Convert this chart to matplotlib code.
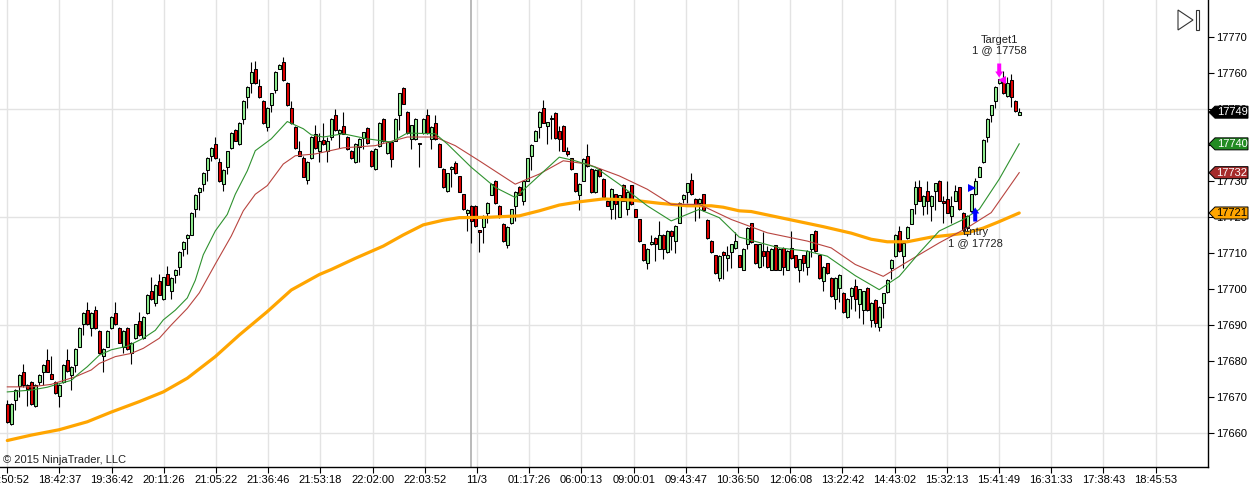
import numpy as np
import matplotlib.pyplot as plt
import matplotlib.transforms as mtransforms
from matplotlib.patches import Polygon, Rectangle

plt.rcParams['font.family'] = ['Liberation Sans', 'DejaVu Sans']

# candles (one value per bar)
opens = [
    17668.2, 17662.5, 17669.3, 17673.1, 17677.1, 17673.4, 17674.3, 17667.5, 17674.3, 17677.1,
    17680.3, 17676.4, 17674.3, 17670.3, 17674.3, 17680.3, 17676.3, 17679.1, 17684.1, 17690.3,
    17694.3, 17689.2, 17694.3, 17688.4, 17681.5, 17684.1, 17689.2, 17693.4, 17689.2, 17684.1,
    17689.2, 17682.2, 17686.4, 17691.2, 17686.4, 17693.4, 17699.4, 17696.2, 17702.4, 17697.3,
    17704.3, 17699.4, 17704.1, 17706.1, 17711.1, 17714.3, 17715.2, 17722.2, 17727.1, 17729.2,
    17733.2, 17737.1, 17740.4, 17735.3, 17729.2, 17734.1, 17739.2, 17744.3, 17740.4, 17747.2,
    17753.4, 17757.3, 17761.3, 17756.4, 17752.3, 17745.2, 17751.2, 17755.3, 17761.3, 17763.2,
    17757.3, 17750.3, 17745.2, 17738.3, 17736.5, 17730.3, 17736.5, 17743.2, 17738.3, 17741.5,
    17738.3, 17742.2, 17748.3, 17743.4, 17745.3, 17742.3, 17738.5, 17735.3, 17739.5, 17742.0,
    17744.8, 17738.5, 17733.3, 17739.7, 17747.4, 17737.9, 17740.9, 17741.3, 17748.3, 17756.0,
    17749.2, 17741.8, 17741.8, 17740.5, 17743.4, 17748.3, 17741.8, 17746.2, 17740.4, 17733.4,
    17727.2, 17733.4, 17735.1, 17731.4, 17726.4, 17721.1, 17723.2, 17723.2, 17716.4, 17717.4,
    17721.2, 17726.3, 17730.2, 17723.2, 17718.1, 17712.3, 17718.3, 17723.1, 17728.4, 17724.6,
    17730.2, 17737.1, 17741.3, 17745.1, 17750.4, 17745.4, 17747.5, 17749.0, 17744.1, 17745.3,
    17738.5, 17736.4, 17732.2, 17726.3, 17730.2, 17737.1, 17733.4, 17726.9, 17733.4, 17730.6,
    17724.6, 17722.2, 17726.4, 17720.2, 17729.0, 17722.2, 17728.9, 17722.2, 17719.4, 17712.5,
    17707.3, 17712.5, 17714.3, 17711.3, 17715.2, 17710.4, 17716.2, 17713.4, 17718.5, 17725.2,
    17727.1, 17730.4, 17725.2, 17724.1, 17726.4, 17719.2, 17713.4, 17709.4, 17703.2, 17710.4,
    17708.6, 17710.3, 17711.4, 17709.4, 17705.5, 17712.5, 17718.3, 17712.5, 17706.2, 17710.6,
    17710.6, 17705.5, 17712.2, 17705.5, 17711.5, 17705.5, 17711.5, 17709.4, 17705.5, 17709.4,
    17706.2, 17711.2, 17716.2, 17709.4, 17702.2, 17707.2, 17703.2, 17697.3, 17700.4, 17699.1,
    17692.3, 17698.2, 17701.0, 17696.0, 17694.3, 17700.4, 17691.5, 17697.1, 17689.6, 17696.2,
    17699.2, 17705.9, 17709.2, 17716.2, 17709.2, 17714.3, 17718.2, 17723.6, 17728.3, 17723.2,
    17727.4, 17723.2, 17727.2, 17730.1, 17724.6, 17725.0, 17720.4, 17724.6, 17728.3, 17721.3,
    17717.1, 17721.8, 17726.4, 17731.3, 17735.3, 17742.3, 17748.3, 17752.3, 17757.3, 17758.8,
    17753.6, 17758.1, 17752.3, 17748.5,
]
highs = [
    17669.3, 17668.4, 17672.4, 17676.5, 17679.2, 17673.6, 17674.5, 17673.6, 17676.5, 17679.2,
    17683.4, 17681.5, 17674.5, 17673.6, 17679.2, 17683.4, 17678.7, 17683.6, 17689.4, 17693.6,
    17696.4, 17693.6, 17695.4, 17688.6, 17683.6, 17688.6, 17692.5, 17696.4, 17689.4, 17688.6,
    17689.4, 17685.4, 17690.5, 17693.8, 17692.5, 17698.7, 17703.3, 17701.5, 17704.3, 17703.5,
    17706.4, 17703.3, 17705.7, 17710.6, 17713.4, 17715.4, 17721.5, 17726.4, 17728.4, 17732.5,
    17736.7, 17739.4, 17742.4, 17736.5, 17733.4, 17738.5, 17743.6, 17744.5, 17746.4, 17752.5,
    17756.4, 17763.2, 17763.5, 17758.5, 17752.5, 17750.5, 17754.6, 17760.6, 17762.5, 17764.4,
    17757.5, 17752.3, 17745.4, 17741.1, 17737.1, 17735.5, 17742.5, 17745.5, 17743.4, 17746.2,
    17742.4, 17747.6, 17750.2, 17744.5, 17749.2, 17742.5, 17738.7, 17740.6, 17742.0, 17743.8,
    17745.0, 17738.7, 17739.3, 17746.4, 17747.6, 17741.1, 17741.1, 17747.6, 17754.6, 17756.3,
    17749.4, 17745.7, 17747.6, 17740.6, 17747.6, 17750.0, 17745.4, 17748.3, 17740.6, 17733.6,
    17732.4, 17734.3, 17735.5, 17731.6, 17726.6, 17722.2, 17723.4, 17723.4, 17716.6, 17720.6,
    17724.2, 17729.5, 17730.4, 17723.4, 17718.3, 17717.6, 17722.4, 17727.3, 17728.6, 17730.2,
    17736.6, 17740.4, 17744.3, 17749.4, 17752.5, 17746.6, 17748.5, 17749.2, 17745.3, 17745.5,
    17739.4, 17736.6, 17732.4, 17729.5, 17736.4, 17740.4, 17733.6, 17733.4, 17733.6, 17730.8,
    17724.8, 17728.0, 17726.6, 17726.3, 17729.2, 17727.3, 17729.1, 17722.4, 17719.6, 17712.7,
    17711.5, 17715.0, 17714.5, 17719.0, 17715.4, 17716.4, 17716.4, 17717.8, 17724.3, 17726.4,
    17729.6, 17732.3, 17725.4, 17725.4, 17726.6, 17719.4, 17713.6, 17709.6, 17709.5, 17710.6,
    17712.0, 17712.7, 17716.0, 17709.6, 17711.4, 17717.3, 17718.5, 17712.7, 17712.7, 17716.0,
    17712.0, 17711.4, 17712.4, 17711.4, 17711.7, 17710.8, 17716.2, 17709.6, 17708.5, 17709.6,
    17710.8, 17715.5, 17716.4, 17709.6, 17706.4, 17707.4, 17703.4, 17703.4, 17704.3, 17699.3,
    17697.5, 17700.6, 17703.0, 17700.2, 17699.6, 17700.6, 17696.4, 17697.3, 17695.4, 17699.1,
    17702.9, 17708.4, 17715.4, 17717.5, 17713.1, 17717.5, 17722.4, 17730.0, 17730.3, 17726.2,
    17730.0, 17726.2, 17729.6, 17730.3, 17726.0, 17730.0, 17726.0, 17729.0, 17728.5, 17721.5,
    17720.6, 17726.6, 17731.0, 17734.2, 17741.7, 17747.6, 17751.3, 17756.4, 17758.5, 17760.5,
    17759.0, 17759.8, 17752.5, 17750.3,
]
lows = [
    17662.8, 17662.3, 17666.4, 17670.0, 17672.9, 17667.5, 17668.0, 17667.3, 17673.4, 17673.4,
    17676.9, 17675.0, 17671.0, 17667.3, 17674.1, 17677.1, 17672.1, 17677.1, 17683.9, 17687.4,
    17690.1, 17686.9, 17689.0, 17682.0, 17677.1, 17683.9, 17689.0, 17690.1, 17685.0, 17682.2,
    17683.2, 17679.2, 17686.2, 17687.1, 17686.2, 17693.2, 17697.1, 17695.4, 17698.3, 17697.1,
    17701.1, 17697.3, 17701.7, 17704.1, 17709.2, 17709.7, 17715.0, 17720.1, 17722.0, 17727.4,
    17730.1, 17735.7, 17736.3, 17729.9, 17727.2, 17732.0, 17739.0, 17741.1, 17740.2, 17746.0,
    17750.3, 17754.4, 17757.1, 17753.2, 17746.0, 17744.1, 17749.2, 17754.4, 17761.1, 17757.9,
    17750.9, 17746.0, 17739.0, 17736.9, 17731.1, 17729.2, 17736.3, 17739.0, 17735.3, 17740.2,
    17735.3, 17741.5, 17744.1, 17739.2, 17743.0, 17738.8, 17736.2, 17735.1, 17735.3, 17739.0,
    17740.3, 17734.0, 17733.1, 17739.5, 17740.9, 17737.7, 17734.0, 17741.1, 17744.3, 17751.4,
    17743.2, 17739.0, 17741.6, 17734.0, 17743.2, 17743.2, 17739.0, 17741.6, 17733.9, 17728.1,
    17727.0, 17728.3, 17732.1, 17726.9, 17722.0, 17716.2, 17713.0, 17717.3, 17710.3, 17713.0,
    17718.5, 17726.1, 17723.8, 17719.8, 17713.1, 17711.5, 17718.1, 17719.0, 17726.1, 17723.4,
    17730.0, 17733.0, 17741.1, 17742.0, 17746.1, 17740.4, 17741.8, 17741.8, 17738.5, 17738.3,
    17737.1, 17733.2, 17727.0, 17722.0, 17730.0, 17734.1, 17726.7, 17726.7, 17731.2, 17725.3,
    17723.0, 17719.5, 17719.5, 17720.0, 17724.4, 17720.5, 17723.4, 17720.0, 17713.2, 17707.9,
    17705.6, 17712.3, 17708.0, 17711.1, 17708.5, 17710.2, 17711.0, 17710.0, 17718.3, 17724.0,
    17724.0, 17726.2, 17719.0, 17719.9, 17721.8, 17714.1, 17710.2, 17704.2, 17702.2, 17702.8,
    17705.0, 17706.0, 17711.2, 17706.1, 17705.3, 17711.3, 17712.9, 17707.0, 17706.0, 17706.5,
    17706.0, 17705.3, 17705.3, 17705.3, 17704.0, 17705.3, 17708.5, 17706.0, 17702.0, 17705.0,
    17704.0, 17709.0, 17710.4, 17703.0, 17699.5, 17704.3, 17698.0, 17694.5, 17696.5, 17693.4,
    17692.1, 17694.5, 17694.0, 17692.0, 17690.5, 17694.1, 17689.5, 17689.5, 17688.5, 17692.0,
    17699.0, 17703.0, 17709.0, 17710.4, 17706.0, 17714.1, 17718.0, 17721.0, 17724.4, 17720.5,
    17721.0, 17719.0, 17722.0, 17724.4, 17718.5, 17721.1, 17718.5, 17724.4, 17722.0, 17716.0,
    17714.8, 17721.6, 17726.2, 17731.1, 17735.1, 17741.0, 17746.5, 17750.3, 17757.1, 17754.2,
    17753.4, 17750.5, 17749.3, 17748.3,
]
closes = [
    17663.1, 17668.2, 17672.0, 17676.3, 17673.4, 17672.2, 17668.2, 17673.4, 17676.3, 17679.0,
    17677.1, 17675.2, 17671.2, 17673.4, 17679.0, 17677.3, 17678.5, 17683.4, 17689.2, 17693.4,
    17690.3, 17693.4, 17689.2, 17682.2, 17683.4, 17688.4, 17692.3, 17690.3, 17685.2, 17688.4,
    17683.4, 17685.2, 17690.3, 17687.3, 17692.3, 17698.5, 17697.3, 17701.3, 17698.5, 17703.3,
    17701.3, 17703.1, 17705.5, 17710.4, 17713.2, 17715.2, 17721.3, 17726.2, 17728.2, 17732.3,
    17736.5, 17739.2, 17736.5, 17730.1, 17733.2, 17738.3, 17743.4, 17741.3, 17746.2, 17752.3,
    17756.2, 17760.4, 17757.3, 17753.4, 17746.2, 17750.3, 17754.4, 17760.4, 17762.3, 17758.1,
    17751.1, 17746.2, 17739.2, 17737.1, 17731.3, 17735.3, 17742.3, 17739.2, 17741.3, 17740.4,
    17741.3, 17747.4, 17744.3, 17744.3, 17743.2, 17739.0, 17736.4, 17740.4, 17741.8, 17743.6,
    17740.5, 17734.2, 17739.1, 17746.2, 17741.1, 17740.9, 17736.2, 17747.4, 17754.4, 17751.6,
    17743.4, 17745.5, 17747.4, 17740.3, 17747.4, 17743.4, 17745.2, 17741.8, 17734.1, 17728.3,
    17732.2, 17734.1, 17732.3, 17727.1, 17722.2, 17722.0, 17719.0, 17717.5, 17716.0, 17720.4,
    17724.0, 17729.3, 17724.0, 17720.0, 17713.3, 17717.4, 17722.2, 17727.1, 17726.3, 17730.0,
    17736.4, 17740.2, 17744.1, 17749.2, 17746.3, 17746.4, 17747.3, 17742.0, 17741.8, 17738.5,
    17737.6, 17733.4, 17727.2, 17729.3, 17736.2, 17734.3, 17726.9, 17733.2, 17731.4, 17725.5,
    17723.2, 17727.8, 17723.6, 17726.1, 17724.6, 17727.1, 17723.6, 17720.2, 17713.4, 17708.1,
    17711.3, 17713.1, 17712.5, 17715.0, 17711.1, 17716.2, 17714.8, 17717.6, 17724.1, 17726.2,
    17729.4, 17726.4, 17723.0, 17725.2, 17722.0, 17714.3, 17710.4, 17704.4, 17709.3, 17709.4,
    17709.6, 17712.5, 17713.3, 17706.3, 17711.2, 17717.1, 17713.1, 17707.2, 17712.5, 17709.3,
    17706.2, 17711.2, 17705.5, 17711.2, 17706.2, 17710.6, 17708.7, 17706.2, 17708.3, 17707.2,
    17710.6, 17715.3, 17710.6, 17703.2, 17706.2, 17704.5, 17698.2, 17703.2, 17704.1, 17693.6,
    17697.3, 17700.4, 17697.2, 17700.0, 17699.4, 17694.3, 17696.2, 17690.6, 17695.2, 17698.9,
    17702.7, 17708.2, 17715.2, 17710.6, 17712.9, 17717.3, 17722.2, 17728.3, 17724.6, 17726.0,
    17724.6, 17726.0, 17729.4, 17724.6, 17724.1, 17721.3, 17723.2, 17727.2, 17722.2, 17716.6,
    17720.4, 17726.4, 17730.1, 17734.0, 17741.5, 17747.4, 17751.1, 17756.2, 17758.3, 17754.4,
    17757.3, 17753.4, 17749.5, 17749.2,
]

# moving averages (bar index, value)
fast_bars = [0, 6, 10, 13, 16, 18, 20, 23, 26, 30, 34, 37, 39, 42, 45, 47, 49, 52, 55, 57,
             60, 62, 66, 70, 72, 74, 76, 79, 84, 90, 96, 100, 107, 110, 116, 122, 127, 132,
             138, 142, 147, 153, 160, 166, 173, 178, 183, 193, 200, 205, 212, 218, 223, 228,
             233, 239, 243, 248, 253]
fast_vals = [17671.5, 17672.0, 17672.8, 17673.8, 17674.7, 17676.7, 17678.5, 17681.7, 17683.2,
             17684.2, 17686.4, 17688.6, 17691.5, 17694.2, 17697.6, 17702.5, 17709.6, 17716.2,
             17720.8, 17726.4, 17732.9, 17738.5, 17741.8, 17746.6, 17745.6, 17744.6, 17742.9,
             17742.3, 17743.2, 17741.8, 17740.9, 17743.4, 17743.2, 17740.4, 17733.9, 17728.3,
             17725.5, 17730.6, 17736.7, 17735.7, 17733.9, 17729.2, 17723.2, 17719.0, 17722.2,
             17719.9, 17714.5, 17711.5, 17710.6, 17709.2, 17703.8, 17699.9, 17703.6, 17710.1,
             17716.2, 17719.4, 17722.2, 17730.6, 17740.4]
slow_bars = [0, 6, 11, 17, 21, 23, 27, 31, 34, 38, 41, 45, 48, 52, 56, 59, 62, 65, 69, 72,
             77, 84, 92, 100, 107, 112, 118, 127, 133, 139, 145, 153, 160, 166, 173, 181, 190,
             200, 206, 212, 219, 226, 233, 240, 246, 253]
slow_vals = [17672.9, 17672.9, 17673.6, 17675.7, 17677.6, 17679.4, 17681.3, 17682.2, 17683.6,
             17686.4, 17690.1, 17694.7, 17699.0, 17707.0, 17714.8, 17721.8, 17726.4, 17728.8,
             17734.8, 17737.1, 17737.6, 17739.3, 17739.9, 17742.3, 17742.3, 17739.9, 17735.7,
             17729.2, 17732.0, 17735.7, 17734.8, 17731.5, 17727.8, 17723.6, 17723.6, 17719.4,
             17715.7, 17713.4, 17711.5, 17706.9, 17703.6, 17708.3, 17712.9, 17717.1, 17721.3,
             17732.4]
long_bars = [0, 6, 13, 20, 26, 33, 39, 45, 52, 58, 65, 71, 78, 81, 87, 94, 99, 104, 109, 113,
             120, 128, 133, 138, 143, 149, 156, 163, 170, 176, 179, 183, 186, 192, 198, 204,
             211, 216, 220, 225, 231, 236, 240, 244, 248, 253]
long_vals = [17658.0, 17659.5, 17661.0, 17663.2, 17665.9, 17668.8, 17671.5, 17675.3, 17681.3,
             17687.3, 17693.8, 17699.8, 17704.1, 17705.5, 17708.6, 17712.0, 17715.1, 17717.9,
             17719.2, 17719.9, 17720.0, 17720.4, 17721.8, 17723.4, 17724.3, 17725.1, 17724.8,
             17723.9, 17723.2, 17723.2, 17722.8, 17721.8, 17721.6, 17720.2, 17718.8, 17717.4,
             17715.6, 17713.9, 17713.2, 17713.2, 17714.5, 17715.1, 17715.7, 17717.0, 17718.8,
             17721.2]

time_labels = ['17:50:52', '18:42:37', '19:36:42', '20:11:26', '21:05:22', '21:36:46',
               '21:53:18', '22:02:00', '22:03:52', '11/3', '01:17:26', '06:00:13',
               '09:00:01', '09:43:47', '10:36:50', '12:06:08', '13:22:42', '14:43:02',
               '15:32:13', '15:41:49', '16:31:33', '17:38:43', '18:45:53']
price_ticks = list(range(17660, 17771, 10))
grid_prices = [17660, 17690, 17720, 17750]
session_break = 116

entry_bar, entry_price = 242, 17728
target_bar, target_price = 248, 17758

# figure
W, H = 1258, 493
fig = plt.figure(figsize=(W / 100, H / 100), dpi=100)
ax = fig.add_axes([0, 26 / H, 1208 / W, 467 / H])
y0, y1 = 17650.64, 17780.36
ax.set_xlim(-1.825, 300.2)
ax.set_ylim(y0, y1)
dy = (y1 - y0) / 467.0         # price per pixel
dx = (300.2 + 1.825) / 1208.0  # bars per pixel

tick_bars = np.arange(len(time_labels)) * 13.05
for t in tick_bars:
    ax.axvline(t, color='#e3e3e3', lw=1, zorder=0)
for g in grid_prices:
    ax.axhline(g, color='#e3e3e3', lw=1, zorder=0)
ax.axvline(session_break, color='#b4b4b4', lw=1.3, zorder=0.5)

o = np.array(opens)
h = np.array(highs)
l = np.array(lows)
c = np.array(closes)
x = np.arange(len(c))
up = c >= o

ax.vlines(x, l, h, color='black', lw=0.8, zorder=3)
body_lo = np.minimum(o, c)
body_h = np.maximum(np.abs(c - o), 0.3)
colors = np.where(up, '#90ee90', '#e00000')
ax.bar(x, body_h, bottom=body_lo, width=0.72, color=colors, edgecolor='black',
       linewidth=0.75, zorder=4)

ax.plot(long_bars, long_vals, color='#ffa500', lw=2.3, zorder=5, solid_capstyle='round',
        solid_joinstyle='round')
ax.plot(slow_bars, slow_vals, color='#b84540', lw=0.8, zorder=5)
ax.plot(fast_bars, fast_vals, color='#2f922f', lw=0.8, zorder=5)


# block arrows for the executions (shape in pixels, tip at (bx, by))
def block_arrow(bx, by, sign, color):
    shape = [(0, 0), (-4, -6), (-2, -6), (-2, -14), (2, -14), (2, -6), (4, -6)]
    pts = [(bx + sx * dx, by + sign * sy * dy) for sx, sy in shape]
    ax.add_patch(Polygon(pts, closed=True, facecolor=color, edgecolor='none', zorder=6))


block_arrow(entry_bar, entry_price - 19 * dy, 1, '#0000ff')
ax.plot(entry_bar - 0.8, entry_price, marker='>', color='#0000ff', ms=6, mew=0, zorder=6)
ax.annotate('Entry\n1 @ %d' % entry_price, xy=(entry_bar, entry_price), xytext=(0, -28),
            textcoords='offset points', ha='center', va='top', fontsize=8, linespacing=1.1,
            color='#222222', zorder=7)

block_arrow(target_bar, target_price + 3 * dy, -1, '#ff00ff')
ax.plot(target_bar + 0.7, target_price, marker='<', color='#ff00ff', ms=6, mew=0, zorder=6)
ax.annotate('Target1\n1 @ %d' % target_price, xy=(target_bar, target_price), xytext=(0, 18),
            textcoords='offset points', ha='center', va='bottom', fontsize=8, linespacing=1.1,
            color='#222222', zorder=7)

# axes look
for s in ['left', 'top']:
    ax.spines[s].set_visible(False)
for s in ['right', 'bottom']:
    ax.spines[s].set_linewidth(1)
    ax.spines[s].set_color('black')
ax.yaxis.tick_right()
ax.set_yticks(price_ticks)
ax.set_yticklabels([str(p) for p in price_ticks])
ax.set_xticks(tick_bars)
ax.set_xticklabels(time_labels)
ax.tick_params(axis='y', direction='out', length=4, width=0.8, labelsize=8, pad=2)
ax.tick_params(axis='x', direction='out', length=4, width=0.8, labelsize=8, pad=2)

# price markers on the right
trans = mtransforms.blended_transform_factory(ax.transAxes, ax.transData)
px = 1 / 1208.0
markers = [(closes[-1], 'black', 'white'), (fast_vals[-1], '#228b22', 'white'),
           (slow_vals[-1], '#a52a2a', 'white'), (long_vals[-1], '#ffa500', 'black')]
for v, bg, fg in markers:
    hh = 6 * dy
    poly = Polygon([(1 + 1 * px, v), (1 + 7 * px, v + hh), (1 + 40 * px, v + hh),
                    (1 + 40 * px, v - hh), (1 + 7 * px, v - hh)], closed=True,
                   facecolor=bg, edgecolor='black', lw=0.7, transform=trans,
                   clip_on=False, zorder=10)
    ax.add_patch(poly)
    ax.text(1 + 24 * px, v, '%d' % round(v), transform=trans, ha='center', va='center',
            fontsize=8, color=fg, clip_on=False, zorder=11)


# the small "scroll to end" icon
def fpt(xp, yp):
    return (xp / W, 1 - yp / H)


fig.add_artist(Polygon([fpt(1178, 10), fpt(1178, 30), fpt(1193, 20)], closed=True,
                       fill=False, edgecolor='#333333', lw=0.8, transform=fig.transFigure))
fig.add_artist(Rectangle(fpt(1195.5, 30), 3 / W, 20 / H, fill=False, edgecolor='#333333',
                         lw=0.8, transform=fig.transFigure))

fig.text(3 / W, 1 - 460 / H, '\u00a9 2015 NinjaTrader, LLC', fontsize=8, va='center',
         ha='left', color='#222222')

fig.savefig('out.png', dpi=100)
